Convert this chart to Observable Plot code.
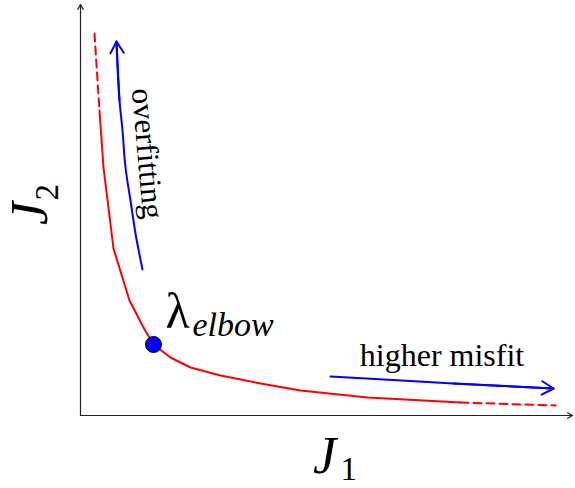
<!DOCTYPE html>
<html>
<head>
<meta charset="utf-8">
<script src="https://cdn.jsdelivr.net/npm/d3@7"></script>
<script src="https://cdn.jsdelivr.net/npm/@observablehq/plot@0.6"></script>
<style>
  html, body { margin: 0; padding: 0; background: #fff; }
</style>
</head>
<body>
<div id="chart"></div>
<script>
// L-curve (solid part): misfit J1 against regularisation term J2
const curveJ1 = [0.38, 0.46, 0.66, 0.98, 1.26, 1.46, 1.80, 2.20, 2.80, 3.60, 4.40, 5.74, 7.60];
const curveJ2 = [6.10, 4.96, 3.34, 2.30, 1.76, 1.42, 1.16, 0.96, 0.80, 0.64, 0.50, 0.36, 0.26];

// dashed continuations at both ends of the curve
const topTailJ1 = [0.28, 0.38];
const topTailJ2 = [7.64, 6.10];
const endTailJ1 = [7.60, 9.50];
const endTailJ2 = [0.26, 0.20];

// the elbow point
const elbowJ1 = [1.46];
const elbowJ2 = [1.42];

// direction arrows
const overfitJ1 = [1.24, 1.10, 1.00, 0.90, 0.84, 0.78, 0.74, 0.72];
const overfitJ2 = [2.92, 3.64, 4.30, 4.96, 5.70, 6.30, 6.96, 7.48];
const misfitJ1 = [5.00, 7.46, 9.46];
const misfitJ2 = [0.78, 0.64, 0.54];

// axis extents
const axisJ1Max = 9.84;
const axisJ2Max = 8.22;

const zip = (xs, ys) => xs.map((x, i) => ({x, y: ys[i]}));
const curve = zip(curveJ1, curveJ2);
const topTail = zip(topTailJ1, topTailJ2);
const endTail = zip(endTailJ1, endTailJ2);
const elbow = zip(elbowJ1, elbowJ2);
const overfit = zip(overfitJ1, overfitJ2);
const misfit = zip(misfitJ1, misfitJ2);

// arrow head drawn over the last `back` legs of a path
function head(pts, back) {
  const a = pts[pts.length - 1 - back], b = pts[pts.length - 1];
  return [{x1: a.x, y1: a.y, x2: b.x, y2: b.y}];
}

const axes = [
  {x1: 0, y1: 0, x2: axisJ1Max, y2: 0},
  {x1: 0, y1: 0, x2: 0, y2: axisJ2Max}
];

// text labels
const labels = {
  misfit: [{x: 7.23, y: 1.0, text: "higher misfit"}],
  overfit: [{x: 1.14, y: 5.22, text: "overfitting"}],
  lambda: [{x: 1.70, y: 1.76, text: "λ"}],
  lambdaSub: [{x: 2.24, y: 1.60, text: "elbow"}],
  j1: [{x: 4.88, y: -1.14, text: "J"}],
  j1Sub: [{x: 5.20, y: -1.28, text: "1"}],
  j2: [{x: -0.68, y: 4.04, text: "J"}],
  j2Sub: [{x: -0.46, y: 4.30, text: "2"}]
};

const serif = "Liberation Serif";

const chart = Plot.plot({
  width: 575,
  height: 488,
  marginLeft: 80,
  marginRight: 0,
  marginTop: 0,
  marginBottom: 73,
  x: {domain: [0, 9.9], axis: null},
  y: {domain: [0, 8.3], axis: null},
  style: {background: "white", overflow: "visible"},
  marks: [
    // axes with arrow tips
    Plot.arrow(axes, {x1: "x1", y1: "y1", x2: "x2", y2: "y2", stroke: "#222", strokeWidth: 1.2, headLength: 7, headAngle: 60}),

    // L-curve
    Plot.line(curve, {x: "x", y: "y", stroke: "#ff0000", strokeWidth: 2, curve: "linear"}),
    Plot.line(topTail, {x: "x", y: "y", stroke: "#ff0000", strokeWidth: 2, strokeDasharray: "8,5"}),
    Plot.line(endTail, {x: "x", y: "y", stroke: "#ff0000", strokeWidth: 2, strokeDasharray: "8,5"}),

    // direction arrows
    Plot.line(overfit, {x: "x", y: "y", stroke: "#0000ff", strokeWidth: 2, curve: "catmull-rom"}),
    Plot.arrow(head(overfit, 2), {x1: "x1", y1: "y1", x2: "x2", y2: "y2", stroke: "#0000ff", strokeWidth: 2, headLength: 10, headAngle: 60}),
    Plot.line(misfit, {x: "x", y: "y", stroke: "#0000ff", strokeWidth: 2, curve: "catmull-rom"}),
    Plot.arrow(head(misfit, 1), {x1: "x1", y1: "y1", x2: "x2", y2: "y2", stroke: "#0000ff", strokeWidth: 2, headLength: 10, headAngle: 60}),

    // elbow point
    Plot.dot(elbow, {x: "x", y: "y", r: 8, fill: "#0000ff", stroke: "black", strokeWidth: 1}),

    // annotations
    Plot.text(labels.misfit, {x: "x", y: "y", text: "text", fontFamily: serif, fontSize: 32, textAnchor: "middle", lineAnchor: "bottom", fill: "black"}),
    Plot.text(labels.overfit, {x: "x", y: "y", text: "text", fontFamily: serif, fontSize: 31, rotate: 85, textAnchor: "middle", lineAnchor: "bottom", fill: "black"}),
    Plot.text(labels.lambda, {x: "x", y: "y", text: "text", fontFamily: serif, fontSize: 50, textAnchor: "start", lineAnchor: "bottom", fill: "black"}),
    Plot.text(labels.lambdaSub, {x: "x", y: "y", text: "text", fontFamily: serif, fontSize: 34, fontStyle: "italic", textAnchor: "start", lineAnchor: "bottom", fill: "black"}),

    // axis titles
    Plot.text(labels.j1, {x: "x", y: "y", text: "text", fontFamily: serif, fontSize: 52, fontStyle: "italic", textAnchor: "middle", lineAnchor: "bottom", fill: "black"}),
    Plot.text(labels.j1Sub, {x: "x", y: "y", text: "text", fontFamily: serif, fontSize: 33, textAnchor: "start", lineAnchor: "bottom", fill: "black"}),
    Plot.text(labels.j2, {x: "x", y: "y", text: "text", fontFamily: serif, fontSize: 52, fontStyle: "italic", rotate: -90, textAnchor: "middle", lineAnchor: "bottom", fill: "black"}),
    Plot.text(labels.j2Sub, {x: "x", y: "y", text: "text", fontFamily: serif, fontSize: 33, rotate: -90, textAnchor: "start", lineAnchor: "bottom", fill: "black"})
  ]
});

document.getElementById("chart").appendChild(chart);
</script>
</body>
</html>
